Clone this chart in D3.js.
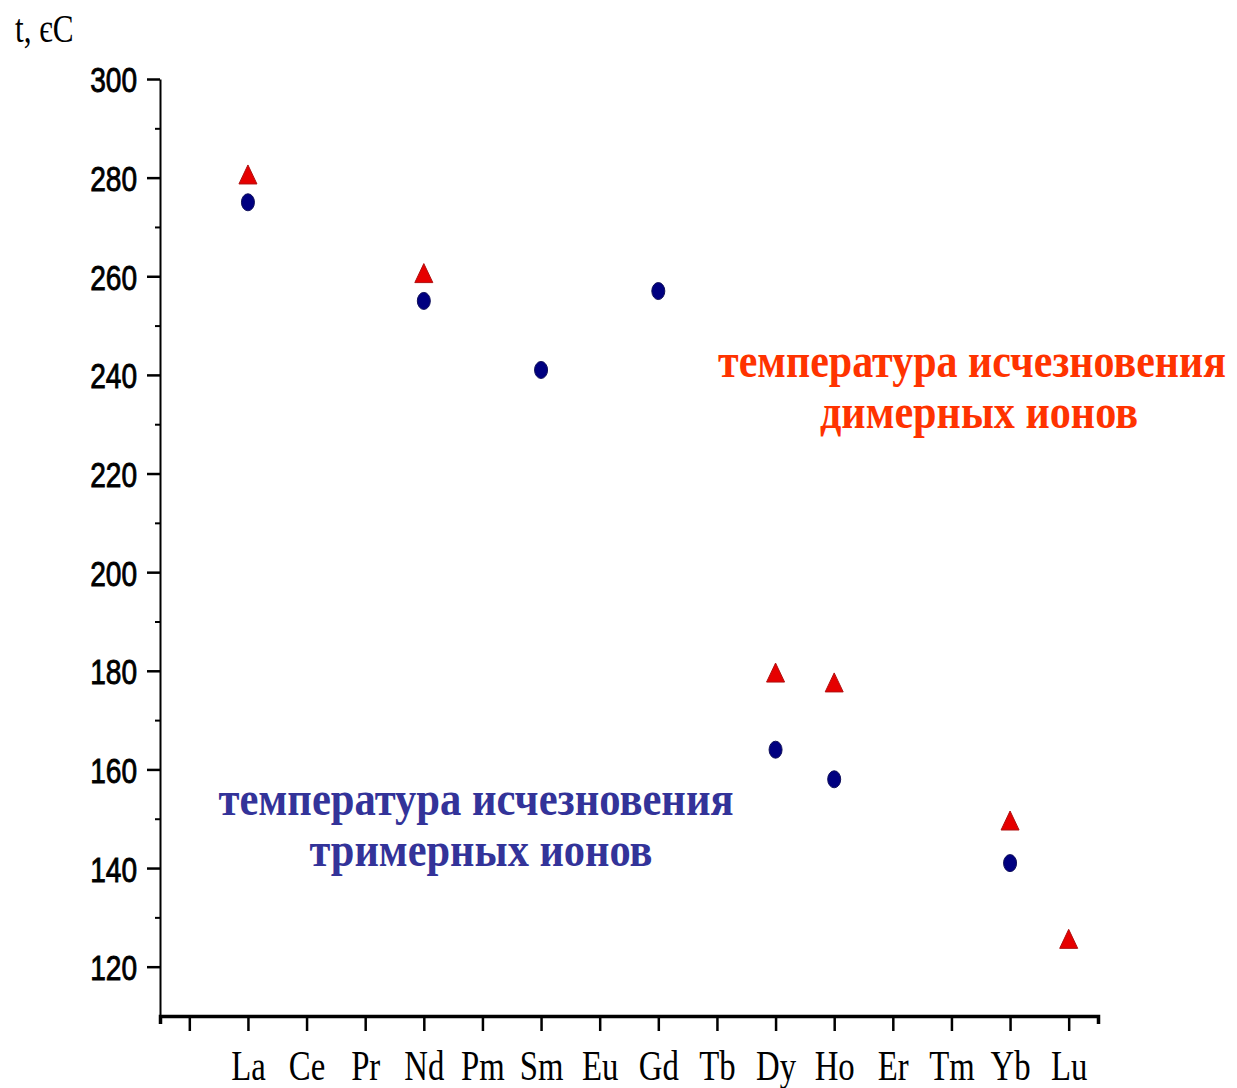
<!DOCTYPE html>
<html>
<head>
<meta charset="utf-8">
<script src="https://cdn.jsdelivr.net/npm/d3@7"></script>
<style>
  html, body { margin: 0; padding: 0; background: #fff; }
  svg { display: block; }
</style>
</head>
<body>
<script>
// Lanthanide series along the x axis (index 0 is an unlabeled leading tick)
const elements = ["La", "Ce", "Pr", "Nd", "Pm", "Sm", "Eu", "Gd", "Tb", "Dy", "Ho", "Er", "Tm", "Yb", "Lu"];

// Disappearance temperature of dimer ions, °C
const dimerElements = ["La", "Nd", "Dy", "Ho", "Yb", "Lu"];
const dimerTemps    = [280, 260, 179, 177, 149, 125];

// Disappearance temperature of trimer ions, °C
const trimerElements = ["La", "Nd", "Sm", "Gd", "Dy", "Ho", "Yb"];
const trimerTemps    = [275, 255, 241, 257, 164, 158, 141];

// Axis ticks
const yMajorTicks = [120, 140, 160, 180, 200, 220, 240, 260, 280, 300];
const yMinorTicks = [130, 150, 170, 190, 210, 230, 250, 270, 290];

const W = 1237, H = 1088;
const svg = d3.select("body").append("svg").attr("width", W).attr("height", H);

const x = d3.scaleLinear().domain([-0.5, elements.length + 0.5]).range([160, 1098]);
const y = d3.scaleLinear().domain([110, 300]).range([1016, 79]);
const xPos = name => x(elements.indexOf(name) + 1);

const SX = 0.78; // horizontal condensing of the axis lettering

// ---- Y axis ----
const yMinor = svg.append("g").attr("transform", `translate(${x.range()[0]},0)`)
  .call(d3.axisLeft(y).tickValues(yMinorTicks).tickSize(5).tickSizeOuter(0).tickFormat(""));
yMinor.select(".domain").attr("stroke-width", 2);
yMinor.selectAll(".tick line").attr("stroke-width", 2);

const yMajor = svg.append("g").attr("transform", `translate(${x.range()[0]},0)`)
  .call(d3.axisLeft(y).tickValues(yMajorTicks).tickSize(13).tickSizeOuter(0));
yMajor.select(".domain").remove();
yMajor.selectAll(".tick line").attr("stroke-width", 2.5);
yMajor.selectAll(".tick text")
  .attr("font-family", "'Liberation Sans', Arial, sans-serif")
  .attr("font-size", 36)
  .attr("fill", "#000")
  .attr("stroke", "#000")
  .attr("stroke-width", 0.9)
  .attr("x", -23 / SX)
  .attr("dy", "0.36em")
  .attr("transform", `scale(${SX},1)`);

// ---- X axis ----
const xAxis = svg.append("g").attr("transform", `translate(0,${y.range()[0]})`)
  .call(d3.axisBottom(x)
    .tickValues(d3.range(0, elements.length + 1))
    .tickSize(15)
    .tickSizeOuter(8)
    .tickFormat(i => i === 0 ? "" : elements[i - 1]));
xAxis.select(".domain").attr("stroke-width", 3.5);
xAxis.selectAll(".tick line").attr("stroke-width", 2.5);
xAxis.selectAll(".tick text")
  .attr("font-family", "'Liberation Serif', 'Times New Roman', serif")
  .attr("font-size", 42)
  .attr("fill", "#000")
  .attr("y", 64)
  .attr("dy", 0)
  .attr("transform", `scale(${SX},1)`);

// ---- Axis title ----
svg.append("text")
  .attr("transform", `translate(15,42) scale(${SX},1)`)
  .attr("font-family", "'Liberation Serif', 'Times New Roman', serif")
  .attr("font-size", 40)
  .attr("fill", "#000")
  .text("t, єC");

// ---- Markers ----
// Trimer ions: navy dots
svg.append("g").selectAll("ellipse")
  .data(trimerElements.map((e, i) => ({ e, t: trimerTemps[i] })))
  .join("ellipse")
  .attr("cx", d => xPos(d.e))
  .attr("cy", d => y(d.t))
  .attr("rx", 6.5)
  .attr("ry", 8.5)
  .attr("fill", "#000080")
  .attr("stroke", "#10105a")
  .attr("stroke-width", 1);

// Dimer ions: red triangles (centroid at the value)
const triH = 19, triW = 18;
const triPath = `M0,${-triH * 2 / 3} L${triW / 2},${triH / 3} L${-triW / 2},${triH / 3} Z`;
svg.append("g").selectAll("path")
  .data(dimerElements.map((e, i) => ({ e, t: dimerTemps[i] })))
  .join("path")
  .attr("d", triPath)
  .attr("transform", d => `translate(${xPos(d.e)},${y(d.t)})`)
  .attr("fill", "#e60000")
  .attr("stroke", "#b01010")
  .attr("stroke-width", 1);

// ---- Annotations (bold serif, slightly stretched vertically) ----
function annotate(lines, color, cx, baselines, widths) {
  lines.forEach((s, i) => {
    svg.append("text")
      .attr("transform", `translate(${cx[i]},${baselines[i]}) scale(1,1.16)`)
      .attr("text-anchor", "middle")
      .attr("font-family", "'Liberation Serif', 'Times New Roman', serif")
      .attr("font-weight", "bold")
      .attr("font-size", 41)
      .attr("fill", color)
      .attr("textLength", widths[i])
      .attr("lengthAdjust", "spacingAndGlyphs")
      .text(s);
  });
}
annotate(["температура исчезновения", "димерных ионов"], "#ff3300", [972, 979], [377, 428], [508, 318]);
annotate(["температура исчезновения", "тримерных ионов"], "#333399", [476, 481], [815, 866], [515, 343]);
</script>
</body>
</html>
